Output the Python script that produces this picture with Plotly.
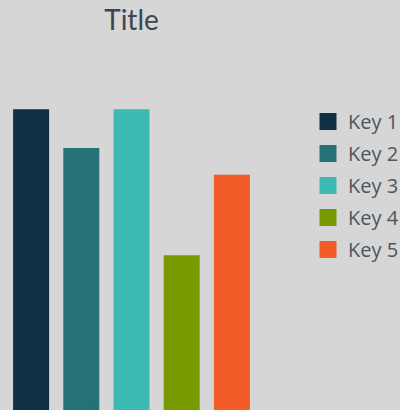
import plotly.graph_objects as go

keys = ["Key 1", "Key 2", "Key 3", "Key 4", "Key 5"]
values = [10, 8.7, 10, 5.1, 7.8]
colors = ["#0f3044", "#267175", "#3cb9b1", "#789a00", "#f25c27"]
category = [""]

bg = "#d6d6d6"

fig = go.Figure()
for k, v, c in zip(keys, values, colors):
    fig.add_trace(go.Bar(
        name=k, x=category, y=[v], legendgroup=k,
        marker=dict(color=c, line=dict(color=c, width=5)),
    ))

fig.update_layout(
    width=400, height=410,
    margin=dict(l=0, r=137, t=52, b=0),
    paper_bgcolor=bg, plot_bgcolor=bg,
    barmode="group", bargap=0.0456, bargroupgap=0.3825,
    title=dict(text="Title", x=0.5, xref="paper", xanchor="center",
               y=1 - 20 / 410, yanchor="middle",
               font=dict(family="Lato, Open Sans, sans-serif", size=28, color="#3f4550")),
    xaxis=dict(visible=False, range=[-0.5, 0.5]),
    yaxis=dict(visible=False, range=[0, 12]),
    showlegend=True,
    legend=dict(
        xref="container", yref="container",
        x=308 / 400, xanchor="left",
        y=1 - 102 / 410, yanchor="top",
        tracegroupgap=3,
        font=dict(family="Open Sans, sans-serif", size=20, color="#50555c"),
        bgcolor="rgba(0,0,0,0)",
    ),
)

fig.write_html("out.html")
